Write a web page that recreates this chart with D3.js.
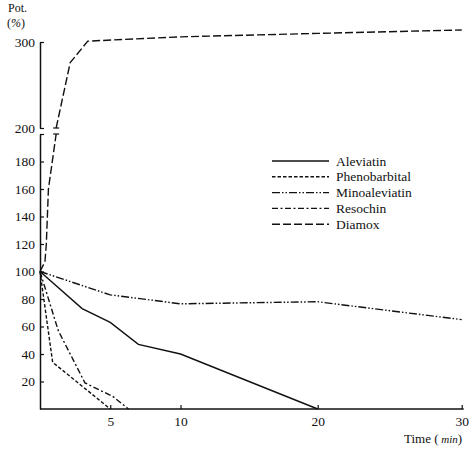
<!DOCTYPE html>
<html>
<head>
<meta charset="utf-8">
<script src="https://cdn.jsdelivr.net/npm/d3@7/dist/d3.min.js"></script>
<style>
  html, body { margin: 0; padding: 0; background: #fff; }
  svg { display: block; }
  svg text { font-family: "Liberation Serif", "DejaVu Serif", serif; fill: #111; }
</style>
</head>
<body>
<svg id="chart" width="474" height="450"></svg>
<script>
// ---- data ----
const seriesNames = ["Aleviatin", "Phenobarbital", "Minoaleviatin", "Resochin", "Diamox"];
const aleviatin     = [[0,100],[3,73],[5,63],[7,47],[10,40],[20,0]];
const phenobarbital = [[0,100],[0.9,34],[5,0]];
const minoaleviatin = [[0,100],[5,83],[10,76.5],[20,78],[30,65]];
const resochin      = [[0,100],[1.3,57],[3.2,19],[5.2,9],[6.3,0]];
const diamox        = [[0,100],[0.35,107],[0.45,120],[0.6,160],[1.15,200],[2.15,276],[3.4,301],[10,306],[20,310],[30,314]];
const xTicks = [5, 10, 20, 30];
const yLowTicks = [20, 40, 60, 80, 100, 120, 140, 160, 180, 200];
const yHighTicks = [200, 300];
const breakValue = 200;

const allSeries = [aleviatin, phenobarbital, minoaleviatin, resochin, diamox];
const dashes = [null, "3.5,2", "8,2,1.5,2,1.5,2", "6,2.5,2,2.5", "8,3"];
const FONT = '"Liberation Serif", "DejaVu Serif", serif';

const svg = d3.select("#chart");

// ---- scales ----
const x = d3.scaleLinear().domain([0, 10, 20, 30]).range([40, 180.5, 317.7, 461.7]);
const yLow = d3.scaleLinear().domain([0, 200]).range([409, 134]);
const yHigh = d3.scaleLinear().domain([200, 300]).range([128, 42]);

// ---- axes ----
const axisStyle = g => {
  g.attr("font-family", FONT);
  g.selectAll("path.domain").attr("stroke", "#111").attr("stroke-width", 1.5);
  g.selectAll(".tick line").attr("stroke", "#111").attr("stroke-width", 1.2);
  g.selectAll(".tick text").style("font-family", FONT).style("font-size", "13.5px").attr("fill", "#111");
};

svg.append("g")
  .attr("transform", `translate(${x(0)},0)`)
  .call(d3.axisLeft(yLow).tickValues(yLowTicks).tickSize(-4).tickSizeOuter(0).tickPadding(5)
        .tickFormat(d => d === breakValue ? "" : d))
  .call(axisStyle);

svg.append("g")
  .attr("transform", `translate(${x(0)},0)`)
  .call(d3.axisLeft(yHigh).tickValues(yHighTicks).tickSize(-4).tickSizeOuter(0).tickPadding(5))
  .call(axisStyle);

svg.append("g")
  .attr("transform", `translate(0,${yLow(0)})`)
  .call(d3.axisBottom(x).tickValues(xTicks).tickSize(-4).tickSizeOuter(0).tickPadding(7))
  .call(axisStyle)
  .call(g => g.select("path.domain").attr("d", `M${x(0)},0H${x(30) + 2}`));

// ---- lines ----
const lineLow = d3.line().x(d => x(d[0])).y(d => yLow(d[1]));
const lineHigh = d3.line().x(d => x(d[0])).y(d => yHigh(d[1]));

allSeries.forEach((data, i) => {
  const low = data.filter(d => d[1] <= breakValue);
  const high = data.filter(d => d[1] >= breakValue);
  const addPath = (pts, gen) => {
    svg.append("path")
      .datum(pts)
      .attr("d", gen)
      .attr("fill", "none")
      .attr("stroke", "#111")
      .attr("stroke-width", 1.4)
      .attr("stroke-dasharray", dashes[i]);
  };
  addPath(low, lineLow);
  if (high.length > 1) {
    addPath(high, lineHigh);
    const bp = data.find(d => d[1] === breakValue);
    [yLow(breakValue), yHigh(breakValue)].forEach(yy => {
      svg.append("line")
        .attr("x1", x(bp[0]) - 3).attr("x2", x(bp[0]) + 3)
        .attr("y1", yy).attr("y2", yy)
        .attr("stroke", "#111").attr("stroke-width", 1.2);
    });
  }
});

// ---- legend ----
const legend = svg.append("g");
seriesNames.forEach((name, i) => {
  const yy = 161 + i * 15.8;
  legend.append("line")
    .attr("x1", 272).attr("x2", 329)
    .attr("y1", yy).attr("y2", yy)
    .attr("stroke", "#111").attr("stroke-width", 1.4)
    .attr("stroke-dasharray", dashes[i]);
  legend.append("text")
    .attr("x", 336).attr("y", yy + 4.5)
    .style("font-family", FONT)
    .style("font-size", "13.5px")
    .text(name);
});

// ---- axis titles ----
svg.append("text").attr("x", 8).attr("y", 12).style("font-family", FONT).style("font-size", "12px").text("Pot.");
svg.append("text").attr("x", 7).attr("y", 27).style("font-family", FONT).style("font-size", "12px")
  .call(t => {
    t.append("tspan").text("(");
    t.append("tspan").style("font-style", "italic").text("%");
    t.append("tspan").text(")");
  });

svg.append("text").attr("x", 404).attr("y", 443).style("font-family", FONT).style("font-size", "13px")
  .call(t => {
    t.append("tspan").text("Time (");
    t.append("tspan").style("font-style", "italic").style("font-size", "11px").text(" min");
    t.append("tspan").text(")");
  });
</script>
</body>
</html>
